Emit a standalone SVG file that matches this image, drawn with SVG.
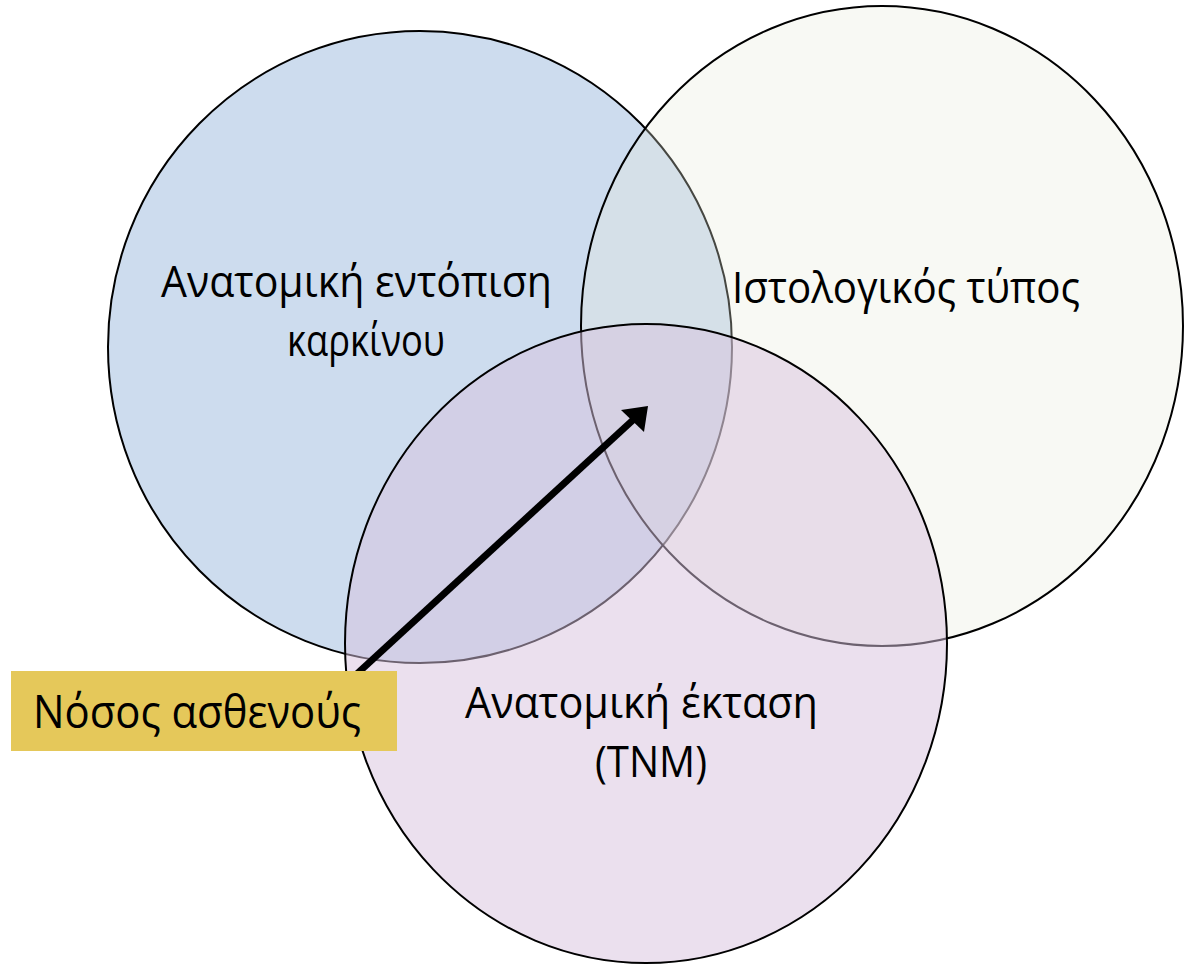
<svg xmlns="http://www.w3.org/2000/svg" width="1184" height="964" viewBox="0 0 1184 964">
<style>
.c{stroke:#000;stroke-width:2}
.t{font-family:"Open Sans","Noto Sans","Liberation Sans",sans-serif;font-size:43px;fill:#000}
</style>
<rect width="1184" height="964" fill="#fff"/>
<g id="anatomiki-entopisi">
<ellipse class="c" cx="420" cy="347" rx="312" ry="316" fill="#CDDCEE"/>
</g>
<g id="istologikos-typos">
<ellipse class="c" cx="882" cy="326" rx="301" ry="320" fill="rgb(231,235,218)" fill-opacity="0.3"/>
</g>
<g id="anatomiki-ektasi">
<ellipse class="c" cx="646" cy="643.5" rx="301" ry="319.5" fill="rgb(215,193,221)" fill-opacity="0.5"/>
</g>
<g id="labels">
<text class="t" x="161" y="297" textLength="391" lengthAdjust="spacingAndGlyphs">Ανατομική εντόπιση</text>
<text class="t" x="287" y="356" textLength="158" lengthAdjust="spacingAndGlyphs">καρκίνου</text>
<text class="t" x="732" y="303" textLength="348" lengthAdjust="spacingAndGlyphs">Ιστολογικός τύπος</text>
<text class="t" x="465" y="718" textLength="353" lengthAdjust="spacingAndGlyphs">Ανατομική έκταση</text>
<text class="t" x="595" y="777" textLength="112" lengthAdjust="spacingAndGlyphs">(TNM)</text>
</g>
<g id="connectors">
<line x1="347" y1="683" x2="633" y2="420" stroke="#000" stroke-width="7"/>
<polygon points="648,406 621,410 644,432" fill="#000"/>
</g>
<g id="nosos-asthenous">
<rect x="11" y="671" width="386" height="80" fill="#E5C85A"/>
<text class="t" x="33" y="728" textLength="328" lengthAdjust="spacingAndGlyphs" style="font-size:45px">Νόσος ασθενούς</text>
</g>
</svg>
